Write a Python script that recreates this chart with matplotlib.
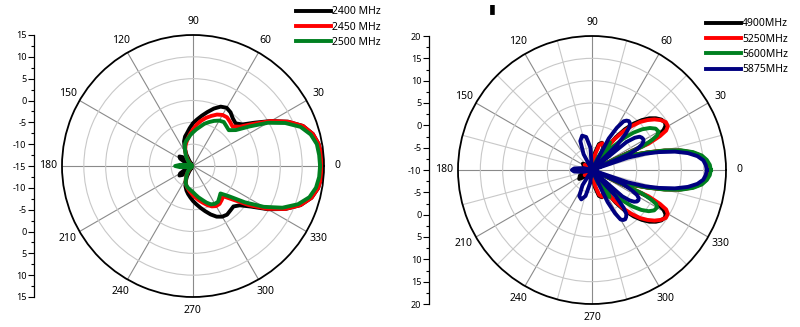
import numpy as np
import matplotlib
matplotlib.use("Agg")
import matplotlib.pyplot as plt

plt.rcParams['font.family'] = ['Noto Sans', 'DejaVu Sans']

# ---- left pattern (2.4 GHz band), dB vs angle ----
ang_left = [0, 5, 10, 15, 20, 25, 30, 35, 40, 45, 50, 55, 60, 65, 70, 75, 80, 85, 90,
            95, 100, 105, 110, 115, 120, 125, 130, 135, 140, 145, 150, 155, 160, 165, 170, 175, 180,
            185, 190, 195, 200, 205, 210, 215, 220, 225, 230, 235, 240, 245, 250, 255, 260, 265, 270,
            275, 280, 285, 290, 295, 300, 305, 310, 315, 320, 325, 330, 335, 340, 345, 350, 355, 360]
db_2400 = [14.6, 14.5, 14.2, 13.4, 11.8, 9.0, 5.6, 2.3, -0.2, -1.2, -0.8, 0.0, 0.4, 0.0, -1.0, -2.2, -3.3, -4.3, -5.2,
           -6.3, -7.3, -8.0, -9.0, -10.5, -12.0, -13.5, -14.5, -13.5, -11.8, -11.2, -11.6, -13.0, -14.5, -14.0, -13.5, -13.0, -13.0,
           -13.0, -13.5, -14.0, -14.5, -13.0, -11.6, -11.2, -11.8, -13.5, -14.5, -13.5, -12.2, -11.0, -10.0, -9.2, -8.5, -7.8, -7.0,
           -6.2, -5.3, -4.3, -3.2, -2.2, -1.6, -1.4, -1.7, -1.9, -1.0, 1.2, 4.8, 8.3, 11.2, 13.1, 14.1, 14.5, 14.6]
db_2450 = [14.6, 14.5, 14.2, 13.4, 11.8, 9.0, 5.6, 1.8, -1.0, -2.2, -1.8, -1.4, -1.5, -2.0, -2.8, -3.6, -4.5, -5.5, -6.6,
           -7.6, -8.5, -9.3, -10.0, -10.8, -11.6, -12.4, -13.1, -13.7, -14.2, -14.6, -14.8, -14.6, -14.2, -13.8, -13.6, -13.0, -12.8,
           -13.0, -13.6, -13.8, -14.2, -14.6, -14.8, -14.6, -14.2, -13.7, -13.1, -12.4, -11.7, -11.0, -10.4, -9.9, -9.4, -8.9, -8.3,
           -7.7, -7.0, -6.3, -5.5, -4.8, -4.4, -4.4, -4.8, -5.2, -3.0, 0.6, 4.6, 8.3, 11.2, 13.1, 14.1, 14.5, 14.6]
db_2500 = [14.1, 14.0, 13.8, 12.9, 11.2, 8.3, 4.8, 0.8, -2.2, -3.4, -3.1, -2.7, -3.0, -3.6, -4.3, -5.0, -5.9, -6.6, -7.3,
           -7.9, -8.6, -9.0, -9.6, -10.6, -11.5, -12.2, -12.9, -13.5, -14.0, -14.5, -14.8, -14.5, -14.0, -13.8, -13.5, -12.0, -10.9,
           -12.0, -13.5, -14.0, -14.3, -14.6, -14.8, -14.5, -14.0, -13.5, -13.0, -12.4, -11.8, -11.0, -10.4, -10.0, -9.7, -9.4, -9.0,
           -8.4, -7.7, -7.0, -6.1, -5.3, -5.0, -5.0, -5.6, -6.1, -4.2, -0.5, 3.7, 7.6, 10.6, 12.6, 13.6, 14.0, 14.1]

# ---- right pattern (5 GHz band) ----
ang_4900 = [0, 2.5, 5, 7.5, 10, 12.5, 15, 17.5, 20, 23, 24.5, 25.5, 27, 29, 31, 33, 36, 39, 42,
            45, 48, 51, 54, 57, 60, 65, 70, 75, 80, 85, 95, 105, 115, 125, 135, 145, 155, 165, 175, 180,
            185, 195, 205, 215, 225, 235, 245, 255, 265, 275, 280, 285, 290, 295, 300, 303, 306, 309, 312, 315,
            318, 321, 324, 327, 329, 331, 333, 334.5, 335.5, 337, 340, 342.5, 345, 347.5, 350, 352.5, 355, 357.5, 360]
db_4900 = [16.0, 15.9, 15.4, 14.4, 12.6, 10.0, 6.6, 3.0, -0.2, -4.5, -10.0, 3.5, 6.5, 8.3, 9.2, 9.5, 9.2, 8.4, 7.3,
           5.8, 4.0, 1.8, -1.0, -4.5, -5.5, -4.0, -3.5, -4.0, -6.0, -9.0, -10.0, -8.5, -9.5, -10.0, -8.5, -7.5, -8.0, -9.0, -9.0, -8.5,
           -9.0, -8.5, -7.0, -6.5, -8.0, -10.0, -9.5, -8.5, -10.0, -9.0, -6.0, -4.0, -3.5, -4.0, -5.5, -4.5, -1.0, 1.8, 4.0, 5.8,
           7.3, 8.4, 9.2, 9.5, 9.2, 8.3, 6.5, 3.5, -10.0, -4.5, -0.2, 3.0, 6.6, 10.0, 12.6, 14.4, 15.4, 15.9, 16.0]

ang_5250 = [0, 2.5, 5, 7.5, 10, 12.5, 15, 17.5, 20, 23, 24.5, 25, 26.5, 28, 30, 33, 36, 39, 42,
            45, 48, 51, 54, 56, 58, 64, 69, 74, 79, 84, 95, 105, 115, 125, 135, 145, 155, 165, 175, 180,
            185, 195, 205, 215, 225, 235, 245, 255, 265, 276, 281, 286, 291, 296, 302, 304, 306, 309, 312, 315,
            318, 321, 324, 327, 330, 332, 333.5, 335, 335.5, 337, 340, 342.5, 345, 347.5, 350, 352.5, 355, 357.5, 360]
db_5250 = [16.2, 16.1, 15.6, 14.6, 12.8, 10.2, 6.8, 3.2, 0.0, -4.0, -10.0, 4.0, 7.0, 8.8, 9.6, 9.7, 9.0, 8.0, 6.7,
           5.2, 3.2, 1.0, -1.5, -4.0, -6.0, -4.0, -3.6, -4.2, -6.5, -10.0, -9.5, -8.5, -9.5, -10.0, -9.0, -8.0, -8.5, -9.5, -9.0, -8.8,
           -9.0, -9.5, -8.5, -8.0, -9.0, -10.0, -9.5, -8.5, -9.5, -10.0, -6.5, -4.2, -3.6, -4.0, -6.0, -4.0, -1.5, 1.0, 3.2, 5.2,
           6.7, 8.0, 9.0, 9.7, 9.6, 8.8, 7.0, 4.0, -10.0, -4.0, 0.0, 3.2, 6.8, 10.2, 12.8, 14.6, 15.6, 16.1, 16.2]

ang_5600 = [0, 2.5, 5, 7.5, 10, 12.5, 15, 17.5, 20, 22.5, 24, 25, 26.5, 28, 30, 33, 36, 39, 42,
            45, 48, 51, 54, 57, 61, 65, 68, 90, 100, 110, 120, 140, 160, 170, 180,
            190, 200, 220, 240, 250, 260, 270, 292, 295, 299, 303, 306, 309, 312, 315, 318, 321, 324, 327, 330,
            332, 333.5, 335, 336, 337.5, 340, 342.5, 345, 347.5, 350, 352.5, 355, 357.5, 360]
db_5600 = [16.6, 16.4, 15.8, 14.8, 13.0, 10.4, 7.0, 3.2, 0.0, -3.5, -10.0, 2.5, 5.0, 6.5, 7.2, 7.0, 6.0, 4.5, 2.5,
           0.0, -3.0, -10.0, -4.0, -2.6, -3.5, -7.0, -10.0, -10.0, -8.5, -9.0, -10.0, -10.0, -9.5, -8.5, -8.0,
           -8.5, -9.5, -10.0, -10.0, -9.0, -8.5, -10.0, -10.0, -7.0, -3.5, -2.8, -4.0, -10.0, -3.5, -0.3, 2.2, 4.2, 5.7, 6.6, 6.8,
           6.3, 4.8, 2.3, -10.0, -3.5, 0.0, 3.2, 7.0, 10.4, 13.0, 14.8, 15.8, 16.4, 16.6]

ang_5875 = [0, 2.5, 5, 7.5, 10, 12.5, 15, 17, 19, 21, 23, 25, 27, 29, 31, 33, 35, 37, 39, 42,
            45, 47, 49, 51, 53, 55, 57, 59.5, 62, 66, 88, 94, 100, 106, 112, 118, 124, 160, 168, 175, 180,
            185, 192, 200, 232, 238, 244, 250, 256, 262, 268, 293, 296, 298, 300, 302, 304, 306, 308, 310, 312,
            316, 319, 321, 323, 325, 327, 329, 331, 333, 336, 339, 341, 343, 345, 347.5, 350, 352.5, 355, 357.5, 360]
db_5875 = [15.7, 15.5, 15.0, 13.8, 11.8, 9.0, 5.5, 2.5, -1.5, -10.0, -1.0, 1.2, 2.5, 3.2, 3.4, 3.3, 3.0, 2.0, 0.0, -10.0,
           -2.0, 1.0, 2.8, 3.5, 3.7, 3.5, 3.0, 1.0, -2.0, -10.0, -10.0, -5.0, -2.5, -2.0, -3.0, -6.0, -10.0, -10.0, -8.0, -6.0, -5.5,
           -6.0, -8.0, -10.0, -10.0, -6.0, -3.5, -3.0, -4.0, -7.0, -10.0, -10.0, -2.0, 1.0, 2.8, 3.2, 3.3, 3.0, 2.5, 1.0, -2.0,
           -10.0, -1.0, 0.8, 1.8, 2.3, 2.4, 2.2, 1.5, 0.0, -2.5, -10.0, -1.5, 2.5, 5.5, 9.0, 11.8, 13.8, 15.0, 15.5, 15.7]

theta_ticks = [0, 30, 60, 90, 120, 150, 180, 210, 240, 270, 300, 330]
theta_minor = [15, 45, 75, 105, 135, 165, 195, 225, 255, 285, 315, 345]

fig = plt.figure(figsize=(8, 3.27), dpi=100)


def style_polar(ax, rmin, rmax, minor_grid):
    ax.set_ylim(rmin, rmax)
    ax.set_yticks(np.arange(rmin + 5, rmax, 5))
    ax.set_yticklabels([])
    ax.set_xticks(np.deg2rad(theta_ticks))
    ax.set_xticklabels([str(t) for t in theta_ticks], fontsize=7.5)
    ax.set_xticks(np.deg2rad(theta_minor), minor=True)
    ax.tick_params(axis='x', which='major', direction='in', length=5, width=0.8, pad=3)
    ax.tick_params(axis='x', which='minor', direction='in', length=3.5, width=0.8)
    ax.xaxis.grid(True, which='major', color='#8a8a8a', lw=0.8)
    ax.yaxis.grid(True, color='#c8c8c8', lw=0.8)
    if minor_grid:
        ax.xaxis.grid(True, which='minor', color='#c8c8c8', lw=0.8)
    ax.spines['polar'].set_linewidth(1.3)
    ax.spines['polar'].set_color('black')


def side_scale(rect, top, span):
    ax = fig.add_axes(rect)
    ax.set_ylim(-span, span)
    ticks = np.arange(-span, span + 1, 5)
    ax.set_yticks(ticks)
    ax.set_yticklabels([str(int(abs(t) - (span - top))) for t in ticks], fontsize=6.5)
    ax.yaxis.set_minor_locator(plt.MultipleLocator(2.5))
    ax.tick_params(axis='y', which='major', length=4, width=0.8, pad=1.5)
    ax.tick_params(axis='y', which='minor', length=2, width=0.8)
    ax.set_xticks([])
    for s in ['top', 'right', 'bottom']:
        ax.spines[s].set_visible(False)
    ax.spines['left'].set_linewidth(0.9)
    ax.patch.set_visible(False)


# left polar
axl = fig.add_axes([62 / 800, 30 / 327, 262 / 800, 262 / 327], projection='polar')
l1, = axl.plot(np.deg2rad(ang_left), db_2400, color='black', lw=2.8, label='2400 MHz')
l2, = axl.plot(np.deg2rad(ang_left), db_2450, color='#ff0000', lw=2.8, label='2450 MHz')
l3, = axl.plot(np.deg2rad(ang_left), db_2500, color='#008020', lw=2.8, label='2500 MHz')
style_polar(axl, -15, 15, False)
side_scale([34 / 800, 30 / 327, 0.001, 262 / 327], 15, 30)
fig.legend(handles=[l1, l2, l3], loc='upper left', bbox_to_anchor=(290 / 800, 1.0),
           frameon=False, fontsize=7.5, handlelength=3.3, handletextpad=0.15,
           labelspacing=0.42, borderaxespad=0.2)

# right polar
axr = fig.add_axes([458 / 800, 23 / 327, 268 / 800, 268 / 327], projection='polar')
r1, = axr.plot(np.deg2rad(ang_4900), db_4900, color='black', lw=2.8, label='4900MHz')
r2, = axr.plot(np.deg2rad(ang_5250), db_5250, color='#ff0000', lw=2.8, label='5250MHz')
r3, = axr.plot(np.deg2rad(ang_5600), db_5600, color='#008020', lw=2.8, label='5600MHz')
r4, = axr.plot(np.deg2rad(ang_5875), db_5875, color='#000080', lw=2.8, label='5875MHz')
style_polar(axr, -10, 20, True)
side_scale([429 / 800, 23 / 327, 0.001, 268 / 327], 20, 30)
fig.legend(handles=[r1, r2, r3, r4], loc='upper left', bbox_to_anchor=(700 / 800, 1 - 12 / 327),
           frameon=False, fontsize=7.5, handlelength=3.3, handletextpad=0.15,
           labelspacing=0.42, borderaxespad=0.2)

fig.text(492 / 800, 1 - 9 / 327, '\u25ae', fontsize=9, fontweight='bold', ha='center', va='center',
         family=['DejaVu Sans'])

fig.savefig('out.png', dpi=100)
